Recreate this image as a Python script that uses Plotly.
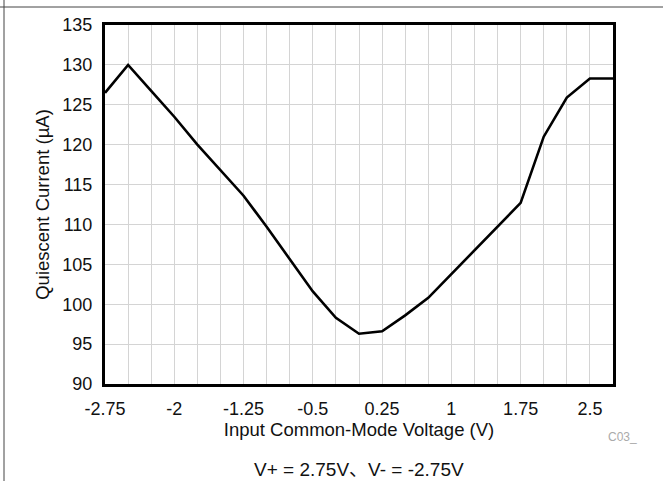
import plotly.graph_objects as go

voltage = [-2.75, -2.5, -2.25, -2.0, -1.75, -1.5, -1.25, -1.0, -0.75, -0.5, -0.25, 0.0,
           0.25, 0.5, 0.75, 1.0, 1.25, 1.5, 1.75, 2.0, 2.25, 2.5, 2.75]
current = [126.5, 130.0, 126.75, 123.5, 120.0, 116.8, 113.6, 109.7, 105.6, 101.6, 98.3, 96.3,
           96.6, 98.6, 100.8, 103.8, 106.7, 109.8, 112.7, 121.0, 125.9, 128.3, 128.3]
x_tickvals = [-2.75, -2.0, -1.25, -0.5, 0.25, 1.0, 1.75, 2.5]
x_ticktext = ["-2.75", "-2", "-1.25", "-0.5", "0.25", "1", "1.75", "2.5"]
y_tickvals = [90, 95, 100, 105, 110, 115, 120, 125, 130, 135]

FONT = "Liberation Sans, Arial, Noto Sans CJK SC, sans-serif"
W, H = 663, 481
L, R, T, B = 105, 50, 25, 97
pw, ph = W - L - R, H - T - B

fig = go.Figure()
fig.add_trace(go.Scatter(x=voltage, y=current, mode="lines",
                         line=dict(color="black", width=2.6), showlegend=False))

fig.update_layout(
    width=W, height=H,
    margin=dict(l=L, r=R, t=T, b=B, autoexpand=False),
    paper_bgcolor="white", plot_bgcolor="white",
    font=dict(family=FONT, size=18, color="#111"),
    xaxis=dict(
        range=[-2.75, 2.75], tickmode="array", tickvals=x_tickvals, ticktext=x_ticktext,
        showgrid=True, gridcolor="#d4d4d4", gridwidth=1.2,
        minor=dict(tick0=-2.75, dtick=0.25, showgrid=True, gridcolor="#d4d4d4", gridwidth=1.2),
        showline=True, linecolor="black", linewidth=3, mirror=True,
        ticks="outside", ticklen=6, tickcolor="rgba(0,0,0,0)",
        tickfont=dict(size=18),
        title=dict(text="Input Common-Mode Voltage (V)", font=dict(size=18.5), standoff=0),
        zeroline=False,
    ),
    yaxis=dict(
        range=[90, 135], tickmode="array", tickvals=y_tickvals,
        showgrid=True, gridcolor="#d4d4d4", gridwidth=1.2,
        showline=True, linecolor="black", linewidth=3, mirror=True,
        ticks="outside", ticklen=6, tickcolor="rgba(0,0,0,0)",
        tickfont=dict(size=18),
        title=dict(text="Quiescent Current (µA)", font=dict(size=18.5), standoff=8),
        zeroline=False,
    ),
)

def px_x(px):
    return (px - L) / pw

def px_y(py):
    return (H - B - py) / ph

# outer frame lines (top and left)
fig.add_shape(type="line", xref="paper", yref="paper",
              x0=px_x(0), x1=px_x(W), y0=px_y(7), y1=px_y(7),
              line=dict(color="#444", width=1))
fig.add_shape(type="line", xref="paper", yref="paper",
              x0=px_x(4), x1=px_x(4), y0=px_y(0), y1=px_y(H),
              line=dict(color="#444", width=1))

fig.add_annotation(text="C03_", xref="paper", yref="paper", x=px_x(622), y=px_y(437),
                   showarrow=False, font=dict(size=12, color="#aaa"), xanchor="center", yanchor="middle")
fig.add_annotation(text="V+ = 2.75V、V- = -2.75V", xref="paper", yref="paper",
                   x=px_x(359), y=px_y(469), showarrow=False,
                   font=dict(size=19, color="#111"), xanchor="center", yanchor="middle")

fig.write_html("out.html", config={"displayModeBar": False},
               post_script="document.body.style.margin='0';document.body.style.overflow='hidden';")
